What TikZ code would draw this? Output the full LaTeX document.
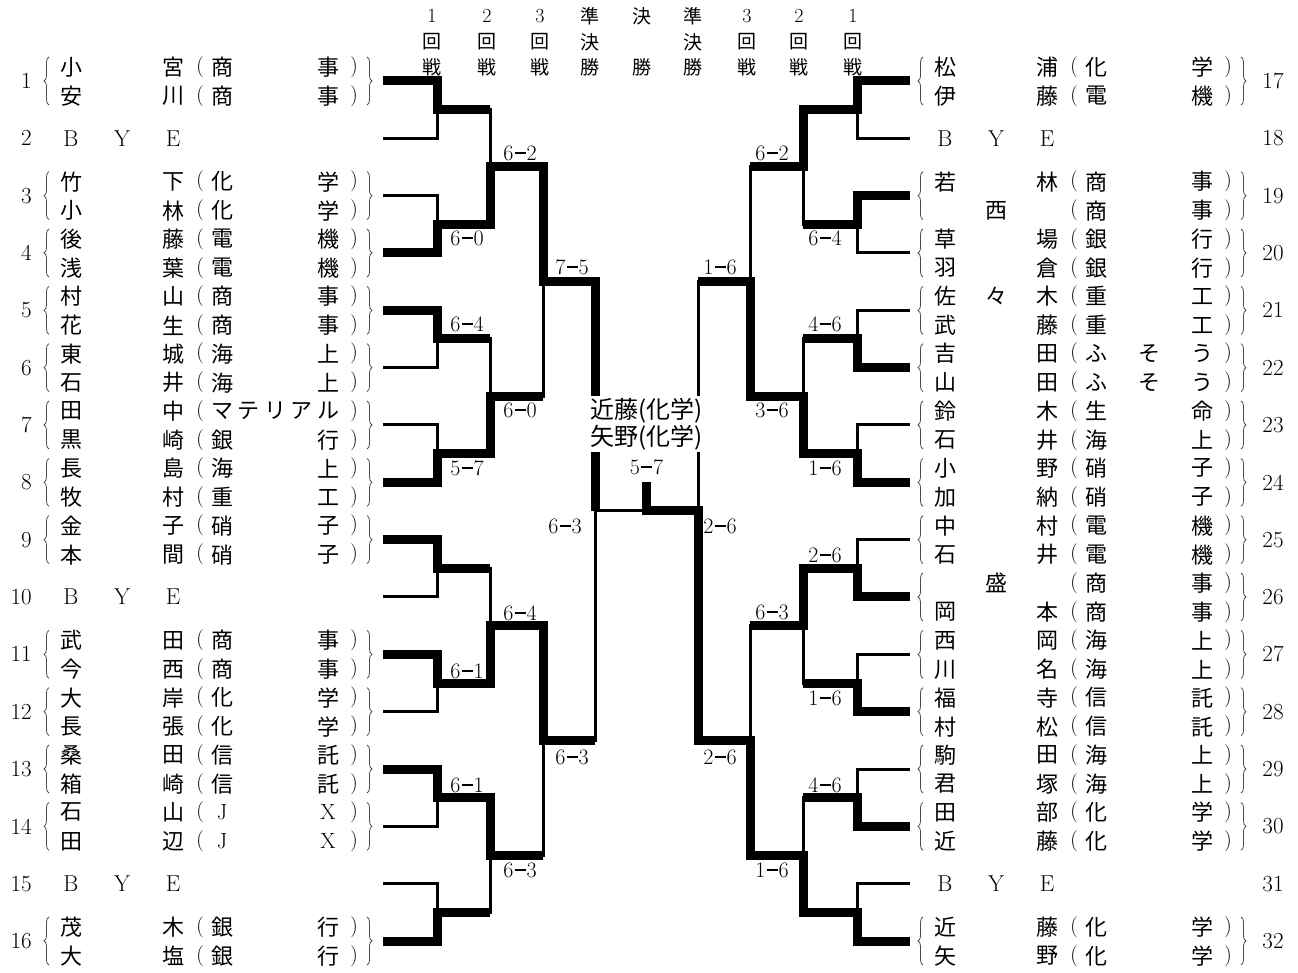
\documentclass[tikz,border=0pt]{standalone}
\usepackage{fontspec}
\newfontfamily\jp{Noto Sans CJK JP}
\usetikzlibrary{calc,decorations.pathreplacing}
\newcounter{nn}
\newcommand\nd[4][jtxt]{\stepcounter{nn}\node[#1] (n\arabic{nn}) at (#2,#3) {#4};}
\newcommand\team[7]{%
  \nd{71+#1}{#2}{#3}\nd{122+#1}{#2}{#4}\nd{173+#1}{#2}{#5}%
  \nd[paren]{200+#1}{#2}{(}\nd{222+#1}{#2}{#6}\nd{328+#1}{#2}{#7}\nd[paren]{354+#1}{#2}{)}}
\newcommand\slotset[2]{%
  \pgfmathsetmacro\yc{81+(#2-1)*57.333}%
  \pgfmathsetmacro\ya{\yc-14}\pgfmathsetmacro\yb{\yc+15}%
  \def\xo{#1}%
  \draw[brc] (49+#1,\yc+24) -- (49+#1,\yc-24);
  \draw[brc] (367+#1,\yc-24) -- (367+#1,\yc+24);}
\newcommand\rowa[5]{\team{\xo}{\ya}{#1}{#2}{#3}{#4}{#5}}
\newcommand\rowb[5]{\team{\xo}{\yb}{#1}{#2}{#3}{#4}{#5}}
\newcommand\bye[2]{\pgfmathsetmacro\yc{81+(#2-1)*57.333}%
  \nd[ltxt]{71+#1}{\yc}{B}\nd[ltxt]{122+#1}{\yc}{Y}\nd[ltxt]{173+#1}{\yc}{E}}
\newcommand\sco[2]{#1\kern1pt\rule[0.29em]{0.5em}{0.07em}\kern1pt#2}
\newcommand\hcol[4]{\nd[#2]{#1}{16}{#3}\nd[hdrj]{#1}{42}{#4}}
\tikzset{
 jtxt/.style={font=\jp\fontsize{22}{24}\selectfont, inner sep=0pt},
 paren/.style={font=\fontsize{21}{24}\selectfont, inner sep=0pt},
 ltxt/.style={font=\fontsize{23}{24}\selectfont, inner sep=0pt},
 hdrj/.style={font=\jp\fontsize{19}{20}\selectfont, inner sep=0pt},
 hdrl/.style={font=\fontsize{20}{20}\selectfont, inner sep=0pt},
 score/.style={font=\fontsize{22}{24}\selectfont, inner sep=0pt},
 thinln/.style={line width=3pt, line join=miter},
 thickln/.style={line width=9pt, line join=miter},
 brc/.style={decorate, decoration={brace, amplitude=5pt}, line width=0.8pt, draw=black!70},
 champ/.style={font=\jp\fontsize{24}{27}\selectfont, align=center, fill=white, inner xsep=1pt, inner ysep=2pt},
}
\begin{document}
\begin{tikzpicture}[x=1pt,y=-1pt]
\fill[white] (0,0) rectangle (1298,973);
\useasboundingbox (0,0) rectangle (1298,973);
% vertical positions of rounds
\coordinate (xL1) at (437,0); \coordinate (xL2) at (490,0);
\coordinate (xL3) at (543,0); \coordinate (xL4) at (595,0);
\coordinate (xR1) at (857,0); \coordinate (xR2) at (803,0);
\coordinate (xR3) at (750,0); \coordinate (xR4) at (698,0);
\foreach \i in {1,...,16}{
  \coordinate (sL\i) at (383,{81+(\i-1)*57.333});
  \coordinate (sR\i) at (910,{81+(\i-1)*57.333});
}
% thin bracket
\foreach \side in {L,R}{
  \foreach \k in {1,...,8}{
    \pgfmathtruncatemacro\a{2*\k-1}\pgfmathtruncatemacro\b{2*\k}
    \draw[thinln] (s\side\a) -- (s\side\a -| x\side1) -- (s\side\b -| x\side1) -- (s\side\b);
    \coordinate (j\side1\k) at ($(s\side\a -| x\side1)!0.5!(s\side\b -| x\side1)$);
  }
  \foreach \k in {1,...,4}{
    \pgfmathtruncatemacro\a{2*\k-1}\pgfmathtruncatemacro\b{2*\k}
    \draw[thinln] (j\side1\a) -- (j\side1\a -| x\side2) -- (j\side1\b -| x\side2) -- (j\side1\b);
    \coordinate (j\side2\k) at ($(j\side1\a -| x\side2)!0.5!(j\side1\b -| x\side2)$);
  }
  \foreach \k in {1,2}{
    \pgfmathtruncatemacro\a{2*\k-1}\pgfmathtruncatemacro\b{2*\k}
    \draw[thinln] (j\side2\a) -- (j\side2\a -| x\side3) -- (j\side2\b -| x\side3) -- (j\side2\b);
    \coordinate (j\side3\k) at ($(j\side2\a -| x\side3)!0.5!(j\side2\b -| x\side3)$);
  }
  \draw[thinln] (j\side31) -- (j\side31 -| x\side4) -- (j\side32 -| x\side4) -- (j\side32);
  \coordinate (j\side4) at ($(j\side31 -| x\side4)!0.5!(j\side32 -| x\side4)$);
}
\coordinate (jF) at ($(jL4)!0.5!(jR4)$);
\coordinate (fT) at ($(jF)+(0,-29)$);
\draw[thinln] (jL4) -- (jR4);
% winner paths, left
\draw[thickln] (sL1) -- (sL1 -| xL1) -- (jL11) -- (jL11 -| xL2);
\draw[thickln] (sL4) -- (sL4 -| xL1) -- (jL12) -- (jL12 -| xL2) -- (jL21) -- (jL21 -| xL3) -- (jL31) -- (jL31 -| xL4) -- (jL4);
\draw[thickln] (sL5) -- (sL5 -| xL1) -- (jL13) -- (jL13 -| xL2);
\draw[thickln] (sL8) -- (sL8 -| xL1) -- (jL14) -- (jL14 -| xL2) -- (jL22) -- (jL22 -| xL3);
\draw[thickln] (sL9) -- (sL9 -| xL1) -- (jL15) -- (jL15 -| xL2);
\draw[thickln] (sL11) -- (sL11 -| xL1) -- (jL16) -- (jL16 -| xL2) -- (jL23) -- (jL23 -| xL3) -- (jL32) -- (jL32 -| xL4);
\draw[thickln] (sL13) -- (sL13 -| xL1) -- (jL17) -- (jL17 -| xL2) -- (jL24) -- (jL24 -| xL3);
\draw[thickln] (sL16) -- (sL16 -| xL1) -- (jL18) -- (jL18 -| xL2);
% winner paths, right
\draw[thickln] (sR1) -- (sR1 -| xR1) -- (jR11) -- (jR11 -| xR2) -- (jR21) -- (jR21 -| xR3);
\draw[thickln] (sR3) -- (sR3 -| xR1) -- (jR12) -- (jR12 -| xR2);
\draw[thickln] (sR6) -- (sR6 -| xR1) -- (jR13) -- (jR13 -| xR2);
\draw[thickln] (sR8) -- (sR8 -| xR1) -- (jR14) -- (jR14 -| xR2) -- (jR22) -- (jR22 -| xR3) -- (jR31) -- (jR31 -| xR4);
\draw[thickln] (sR10) -- (sR10 -| xR1) -- (jR15) -- (jR15 -| xR2) -- (jR23) -- (jR23 -| xR3);
\draw[thickln] (sR12) -- (sR12 -| xR1) -- (jR16) -- (jR16 -| xR2);
\draw[thickln] (sR14) -- (sR14 -| xR1) -- (jR17) -- (jR17 -| xR2);
\draw[thickln] (sR16) -- (sR16 -| xR1) -- (jR18) -- (jR18 -| xR2) -- (jR24) -- (jR24 -| xR3) -- (jR32) -- (jR32 -| xR4) -- (jR4) -- (jF) -- (fT);
% champion
\node[champ] (champ) at (646.5,424) {近藤(化学)\\矢野(化学)};
% scores
\node[score] (sc1) at (520,153) {\sco{6}{2}};
\node[score] (sc2) at (467,238) {\sco{6}{0}};
\node[score] (sc3) at (572,267) {\sco{7}{5}};
\node[score] (sc4) at (467,324) {\sco{6}{4}};
\node[score] (sc5) at (520,410) {\sco{6}{0}};
\node[score] (sc6) at (467,468) {\sco{5}{7}};
\node[score] (sc7) at (565,526) {\sco{6}{3}};
\node[score] (sc8) at (646.5,467) {\sco{5}{7}};
\node[score] (sc9) at (520,613) {\sco{6}{4}};
\node[score] (sc10) at (467,671) {\sco{6}{1}};
\node[score] (sc11) at (572,757) {\sco{6}{3}};
\node[score] (sc12) at (467,785) {\sco{6}{1}};
\node[score] (sc13) at (520,870) {\sco{6}{3}};
\node[score] (sc14) at (772,153) {\sco{6}{2}};
\node[score] (sc15) at (825,238) {\sco{6}{4}};
\node[score] (sc16) at (720,267) {\sco{1}{6}};
\node[score] (sc17) at (825,324) {\sco{4}{6}};
\node[score] (sc18) at (772,410) {\sco{3}{6}};
\node[score] (sc19) at (825,468) {\sco{1}{6}};
\node[score] (sc20) at (720,526) {\sco{2}{6}};
\node[score] (sc21) at (825,555) {\sco{2}{6}};
\node[score] (sc22) at (772,612) {\sco{6}{3}};
\node[score] (sc23) at (825,698) {\sco{1}{6}};
\node[score] (sc24) at (720,757) {\sco{2}{6}};
\node[score] (sc25) at (825,785) {\sco{4}{6}};
\node[score] (sc26) at (772,870) {\sco{1}{6}};
% headers
\hcol{432}{hdrl}{1}{回}\nd[hdrj]{432}{67}{戦}
\hcol{487}{hdrl}{2}{回}\nd[hdrj]{487}{67}{戦}
\hcol{540}{hdrl}{3}{回}\nd[hdrj]{540}{67}{戦}
\hcol{590}{hdrj}{準}{決}\nd[hdrj]{590}{67}{勝}
\hcol{642}{hdrj}{決}{}\nd[hdrj]{642}{67}{勝}
\hcol{693}{hdrj}{準}{決}\nd[hdrj]{693}{67}{勝}
\hcol{747}{hdrl}{3}{回}\nd[hdrj]{747}{67}{戦}
\hcol{799}{hdrl}{2}{回}\nd[hdrj]{799}{67}{戦}
\hcol{853}{hdrl}{1}{回}\nd[hdrj]{853}{67}{戦}
% slot numbers
\foreach \i in {1,...,16}{
  \pgfmathsetmacro\yc{81+(\i-1)*57.333}\pgfmathtruncatemacro\j{\i+16}
  \node[ltxt,anchor=east] (numL\i) at (32,\yc) {\i};
  \node[ltxt] (numR\i) at (1273,\yc) {\j};
}
% left teams
\slotset{0}{1}\rowa{小}{}{宮}{商}{事}\rowb{安}{}{川}{商}{事}
\bye{0}{2}
\slotset{0}{3}\rowa{竹}{}{下}{化}{学}\rowb{小}{}{林}{化}{学}
\slotset{0}{4}\rowa{後}{}{藤}{電}{機}\rowb{浅}{}{葉}{電}{機}
\slotset{0}{5}\rowa{村}{}{山}{商}{事}\rowb{花}{}{生}{商}{事}
\slotset{0}{6}\rowa{東}{}{城}{海}{上}\rowb{石}{}{井}{海}{上}
\slotset{0}{7}\rowa{田}{}{中}{マ}{ル}\rowb{黒}{}{崎}{銀}{行}
\nd{248.5}{\ya}{テ}\nd{275}{\ya}{リ}\nd{301.5}{\ya}{ア}
\slotset{0}{8}\rowa{長}{}{島}{海}{上}\rowb{牧}{}{村}{重}{工}
\slotset{0}{9}\rowa{金}{}{子}{硝}{子}\rowb{本}{}{間}{硝}{子}
\bye{0}{10}
\slotset{0}{11}\rowa{武}{}{田}{商}{事}\rowb{今}{}{西}{商}{事}
\slotset{0}{12}\rowa{大}{}{岸}{化}{学}\rowb{長}{}{張}{化}{学}
\slotset{0}{13}\rowa{桑}{}{田}{信}{託}\rowb{箱}{}{崎}{信}{託}
\slotset{0}{14}\rowa{石}{}{山}{\rmfamily J}{\rmfamily X}\rowb{田}{}{辺}{\rmfamily J}{\rmfamily X}
\bye{0}{15}
\slotset{0}{16}\rowa{茂}{}{木}{銀}{行}\rowb{大}{}{塩}{銀}{行}
% right teams
\slotset{874}{1}\rowa{松}{}{浦}{化}{学}\rowb{伊}{}{藤}{電}{機}
\bye{874}{2}
\slotset{874}{3}\rowa{若}{}{林}{商}{事}\rowb{}{西}{}{商}{事}
\slotset{874}{4}\rowa{草}{}{場}{銀}{行}\rowb{羽}{}{倉}{銀}{行}
\slotset{874}{5}\rowa{佐}{々}{木}{重}{工}\rowb{武}{}{藤}{重}{工}
\slotset{874}{6}\rowa{吉}{}{田}{ふ}{う}\rowb{山}{}{田}{ふ}{う}
\nd{1149}{\ya}{そ}\nd{1149}{\yb}{そ}
\slotset{874}{7}\rowa{鈴}{}{木}{生}{命}\rowb{石}{}{井}{海}{上}
\slotset{874}{8}\rowa{小}{}{野}{硝}{子}\rowb{加}{}{納}{硝}{子}
\slotset{874}{9}\rowa{中}{}{村}{電}{機}\rowb{石}{}{井}{電}{機}
\slotset{874}{10}\rowa{}{盛}{}{商}{事}\rowb{岡}{}{本}{商}{事}
\slotset{874}{11}\rowa{西}{}{岡}{海}{上}\rowb{川}{}{名}{海}{上}
\slotset{874}{12}\rowa{福}{}{寺}{信}{託}\rowb{村}{}{松}{信}{託}
\slotset{874}{13}\rowa{駒}{}{田}{海}{上}\rowb{君}{}{塚}{海}{上}
\slotset{874}{14}\rowa{田}{}{部}{化}{学}\rowb{近}{}{藤}{化}{学}
\bye{874}{15}
\slotset{874}{16}\rowa{近}{}{藤}{化}{学}\rowb{矢}{}{野}{化}{学}
\end{tikzpicture}
\end{document}
